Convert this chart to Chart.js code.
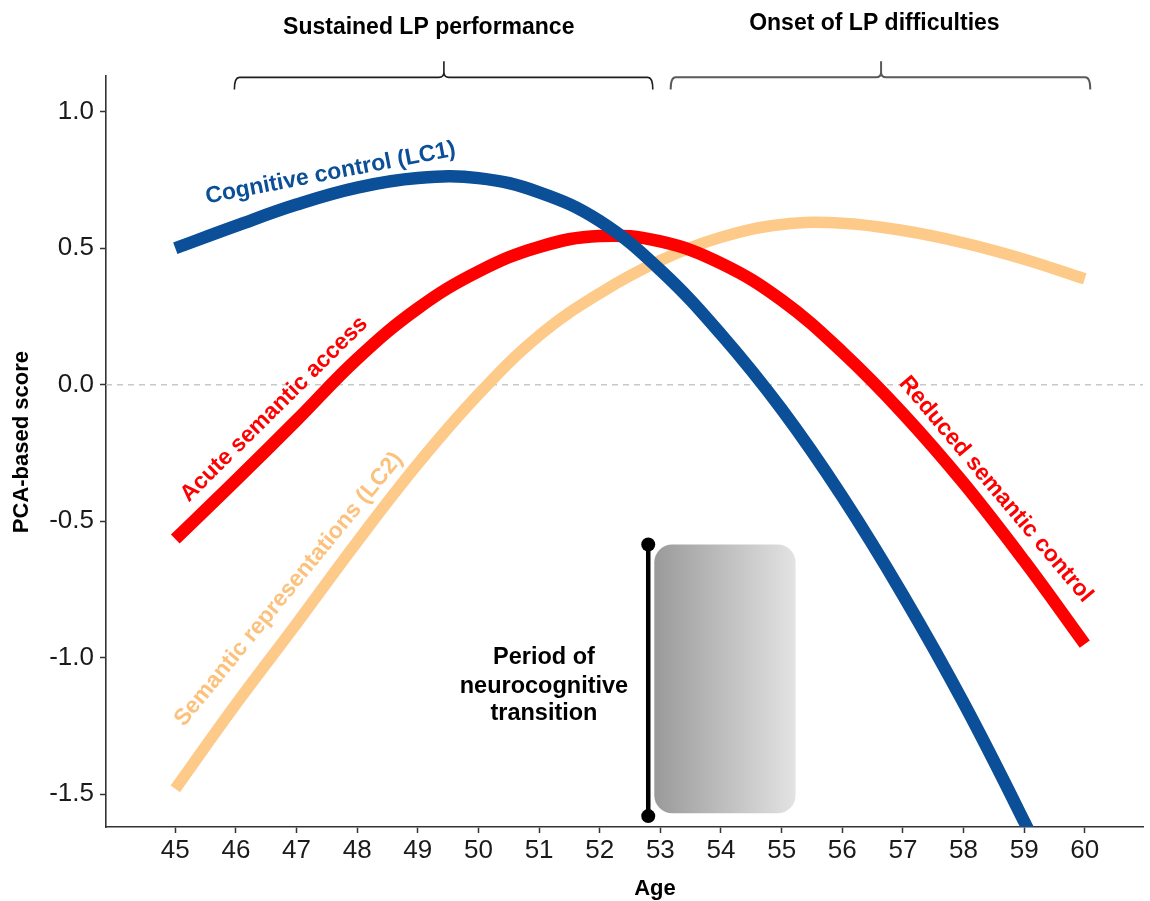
<!DOCTYPE html>
<html>
<head>
<meta charset="utf-8">
<script src="https://cdn.jsdelivr.net/npm/chart.js@4.4.1/dist/chart.umd.min.js"></script>
<style>
html,body{margin:0;padding:0;background:#fff;}
#wrap{width:1150px;height:901px;position:relative;}
</style>
</head>
<body>
<div id="wrap"><canvas id="c" width="1150" height="901"></canvas></div>
<script>
// ---- data ----
const ages = [45,46,47,48,49,50,51,52,53,54,55,56,57,58,59,60];
const cognitiveControl = [0.50,0.582,0.66,0.722,0.757,0.757,0.705,0.60,0.42,0.185,-0.09,-0.41,-0.77,-1.165,-1.60,-2.06];
const semanticAccess = [-0.565,-0.35,-0.13,0.095,0.28,0.415,0.505,0.545,0.525,0.445,0.31,0.12,-0.105,-0.36,-0.645,-0.95];
const semanticRepresentations = [-1.48,-1.17,-0.875,-0.575,-0.29,-0.035,0.18,0.335,0.455,0.54,0.587,0.592,0.565,0.52,0.46,0.388];
const xTickValues = [45,46,47,48,49,50,51,52,53,54,55,56,57,58,59,60];
const yTickValues = [-1.5,-1.0,-0.5,0.0,0.5,1.0];
const xRange = [43.857, 60.96];
const yRange = [-1.62, 1.131];
const transitionAge = 52.8;
const transitionScores = [-0.585, -1.58];
const transitionBoxAges = [52.9, 55.23];
const transitionBoxScores = [-0.585, -1.57];
const periodLabel = ['Period of', 'neurocognitive', 'transition'];
const bracketLabels = ['Sustained LP performance', 'Onset of LP difficulties'];
const bracketAges = [[45.975, 49.43, 52.875], [53.17, 56.64, 60.09]];
const bracketLabelAges = [49.18, 56.53];
const curveLabels = [
  {text:'Cognitive control (LC1)', age:47.56, score:0.775, angle:-10.9, color:'#0a4f98'},
  {text:'Acute semantic access', age:46.63, score:-0.09, angle:-44.7, color:'#ff0000'},
  {text:'Semantic representations (LC2)', age:46.87, score:-0.749, angle:-50.7, color:'#fcc27d'},
  {text:'Reduced semantic control', age:58.53, score:-0.383, angle:49.9, color:'#ff0000'}
];

const FONT = "'Liberation Sans', Arial, sans-serif";
const pts = arr => ages.map((a,i)=>({x:a, y:arr[i]}));

const annotations = {
  id:'annotations',
  beforeDatasetsDraw(chart){
    const {ctx, chartArea:a, scales:{x,y}} = chart;
    ctx.save();
    // zero reference line
    ctx.strokeStyle = '#c8c8c8';
    ctx.lineWidth = 1.5;
    ctx.setLineDash([6,5]);
    ctx.beginPath();
    ctx.moveTo(a.left, y.getPixelForValue(0));
    ctx.lineTo(a.right, y.getPixelForValue(0));
    ctx.stroke();
    ctx.setLineDash([]);
    // gradient box
    const bx0 = x.getPixelForValue(transitionBoxAges[0]);
    const bx1 = x.getPixelForValue(transitionBoxAges[1]);
    const by0 = y.getPixelForValue(transitionBoxScores[0]);
    const by1 = y.getPixelForValue(transitionBoxScores[1]);
    const g = ctx.createLinearGradient(bx0,0,bx1,0);
    g.addColorStop(0,'#9a9a9a');
    g.addColorStop(1,'#e3e3e3');
    ctx.fillStyle = g;
    ctx.beginPath();
    ctx.roundRect(bx0, by0, bx1-bx0, by1-by0, 18);
    ctx.fill();
    ctx.restore();
  },
  afterDatasetsDraw(chart){
    const {ctx, chartArea:a, scales:{x,y}} = chart;
    ctx.save();
    // curve labels
    ctx.font = `bold 23px ${FONT}`;
    ctx.textAlign = 'center';
    ctx.textBaseline = 'middle';
    curveLabels.forEach(l=>{
      ctx.save();
      ctx.translate(x.getPixelForValue(l.age), y.getPixelForValue(l.score));
      ctx.rotate(l.angle*Math.PI/180);
      ctx.fillStyle = l.color;
      ctx.fillText(l.text, 0, 0);
      ctx.restore();
    });
    // period text
    ctx.fillStyle = '#000';
    ctx.font = `bold 23.5px ${FONT}`;
    const px = x.getPixelForValue(51.08);
    const py = y.getPixelForValue(-1.107);
    ctx.fillText(periodLabel[0], px, py-29);
    ctx.fillText(periodLabel[1], px, py);
    ctx.fillText(periodLabel[2], px, py+27);
    // brackets
    const yH = y.getPixelForValue(1.126), yEnd = y.getPixelForValue(1.082), yTip = y.getPixelForValue(1.185);
    bracketAges.forEach((b,i)=>{
      const x0 = x.getPixelForValue(b[0]), xm = x.getPixelForValue(b[1]), x1 = x.getPixelForValue(b[2]);
      ctx.strokeStyle = i===0 ? '#1e1e1e' : '#5a5a5a';
      ctx.lineWidth = i===0 ? 1.6 : 2;
      ctx.beginPath();
      ctx.moveTo(x0, yEnd);
      ctx.quadraticCurveTo(x0, yH, x0+5, yH);
      ctx.lineTo(xm-5, yH);
      ctx.quadraticCurveTo(xm, yH, xm, yH-5);
      ctx.lineTo(xm, yTip);
      ctx.moveTo(xm, yH-5);
      ctx.quadraticCurveTo(xm, yH, xm+5, yH);
      ctx.lineTo(x1-5, yH);
      ctx.quadraticCurveTo(x1, yH, x1, yEnd);
      ctx.stroke();
    });
    ctx.fillStyle = '#000';
    ctx.font = `bold 23px ${FONT}`;
    ctx.fillText(bracketLabels[0], x.getPixelForValue(bracketLabelAges[0]), 27.5);
    ctx.fillText(bracketLabels[1], x.getPixelForValue(bracketLabelAges[1]), 24);
    // axis titles
    ctx.font = `bold 22px ${FONT}`;
    ctx.fillText('Age', x.getPixelForValue(52.91), 889);
    ctx.save();
    ctx.translate(22, y.getPixelForValue(-0.21));
    ctx.rotate(-Math.PI/2);
    ctx.fillText('PCA-based score', 0, 0);
    ctx.restore();
    ctx.restore();
  }
};

const curve = (data, color, width) => ({
  data: pts(data), borderColor: color, borderWidth: width, pointRadius: 0,
  tension: 0.4, borderCapStyle: 'butt', borderJoinStyle: 'round', fill: false, clip: 0
});

new Chart(document.getElementById('c'), {
  type: 'line',
  data: {
    datasets: [
      {data:[{x:transitionAge,y:transitionScores[0]},{x:transitionAge,y:transitionScores[1]}],
       borderColor:'#000', borderWidth:4.5, pointRadius:7, pointBackgroundColor:'#000',
       pointBorderWidth:0, tension:0},
      curve(cognitiveControl, '#0a4f98', 12.5),
      curve(semanticAccess, '#ff0000', 12.5),
      curve(semanticRepresentations, '#fdca8a', 11.5)
    ]
  },
  options: {
    responsive: false, animation: false, devicePixelRatio: 1,
    layout: {padding: {top: 76, right: 2, left: 0, bottom: 0}},
    plugins: {legend: {display: false}, tooltip: {enabled: false}},
    scales: {
      x: {
        type: 'linear', min: xRange[0], max: xRange[1],
        afterBuildTicks: s => { s.ticks = xTickValues.map(v => ({value: v})); },
        afterFit: s => { s.height = 74; },
        ticks: {font: {family: FONT, size: 26}, color: '#1a1a1a', padding: 2, maxRotation: 0, autoSkip: false,
                callback: v => String(v)},
        grid: {drawOnChartArea: false, drawTicks: true, tickLength: 6, tickColor: '#333', tickWidth: 1.5},
        border: {display: true, color: '#333', width: 1.6}
      },
      y: {
        type: 'linear', min: yRange[0], max: yRange[1],
        afterBuildTicks: s => { s.ticks = yTickValues.map(v => ({value: v})); },
        afterFit: s => { s.width = 106; },
        ticks: {font: {family: FONT, size: 26}, color: '#1a1a1a', padding: 6, autoSkip: false,
                callback: v => Number(v).toFixed(1)},
        grid: {drawOnChartArea: false, drawTicks: true, tickLength: 6, tickColor: '#333', tickWidth: 1.5},
        border: {display: true, color: '#333', width: 1.6}
      }
    }
  },
  plugins: [annotations]
});
</script>
</body>
</html>
